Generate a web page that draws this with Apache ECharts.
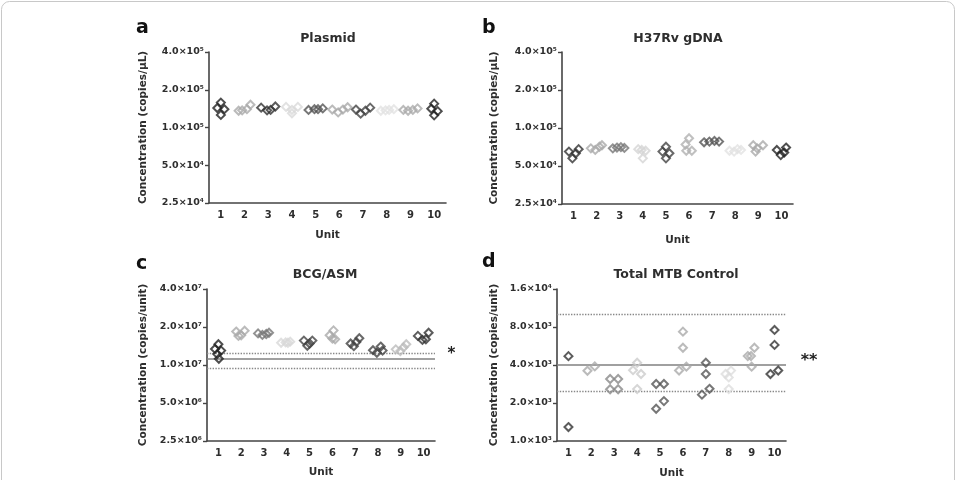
<!DOCTYPE html>
<html><head><meta charset="utf-8">
<script src="https://cdn.jsdelivr.net/npm/echarts@6/dist/echarts.min.js"></script>
<style>html,body{margin:0;padding:0;background:#fff}#c{width:957px;height:480px}</style>
</head><body><div id="c"></div>
<script>
const units = ['1','2','3','4','5','6','7','8','9','10'];

const plasmidTicks = ['2.5×10⁴','5.0×10⁴','1.0×10⁵','2.0×10⁵','4.0×10⁵'];
const plasmidRange = [25000, 400000];
const plasmidValues = [
  [158000,143000,140000,126000],
  [136000,137000,140000,152000],
  [144000,137000,138000,147000],
  [146000,138000,130000,146000],
  [138000,140000,142000,140000],
  [139000,132000,139000,145000],
  [139000,129000,136000,144000],
  [136000,137000,138000,140000],
  [138000,136000,138000,142000],
  [155000,141000,135000,125000]
];
const plasmidJitter = [
  [0,-0.15,0.15,0],
  [-0.25,-0.1,0.1,0.25],
  [-0.3,-0.05,0.1,0.3],
  [-0.25,0,0,0.25],
  [-0.3,-0.05,0.3,0.1],
  [-0.3,-0.05,0.15,0.35],
  [-0.3,-0.1,0.1,0.3],
  [-0.25,-0.05,0.1,0.3],
  [-0.3,-0.1,0.1,0.3],
  [0,-0.12,0.15,0]
];

const h37rvTicks = ['2.5×10⁴','5.0×10⁴','1.0×10⁵','2.0×10⁵','4.0×10⁵'];
const h37rvRange = [25000, 400000];
const h37rvValues = [
  [65000,57500,63000,68000],
  [69000,67000,71000,73000],
  [69000,70000,70500,69500],
  [68000,66000,57500,67000],
  [71000,65000,63000,57500],
  [83000,74000,66000,66000],
  [77000,78000,79000,78000],
  [66000,65000,68000,67000],
  [73000,69000,73000,65000],
  [67000,61000,64000,70000]
];
const h37rvJitter = [
  [-0.2,-0.05,0.1,0.22],
  [-0.25,-0.06,0.12,0.23],
  [-0.3,-0.12,0.05,0.2],
  [-0.2,0.12,0,-0.05],
  [0,-0.15,0.15,0],
  [0,-0.15,-0.12,0.12],
  [-0.35,-0.12,0.1,0.3],
  [-0.25,-0.05,0.1,0.25],
  [-0.22,-0.05,0.2,-0.12],
  [-0.2,-0.03,0.12,0.2]
];

const bcgTicks = ['2.5×10⁶','5.0×10⁶','1.0×10⁷','2.0×10⁷','4.0×10⁷'];
const bcgRange = [2500000, 40000000];
const bcgValues = [
  [14600000,13400000,13000000,12200000,11200000],
  [18400000,17200000,18700000,17000000],
  [17800000,17300000,17600000,18000000],
  [15000000,15100000,15300000,15000000],
  [15600000,14200000,15600000,14800000],
  [18800000,17200000,16200000,16000000],
  [14800000,14100000,16300000,15200000],
  [13100000,12500000,14000000,13000000],
  [13300000,12900000,13800000,14600000],
  [17000000,15800000,16000000,18000000]
];
const bcgJitter = [
  [0,-0.15,0.12,-0.05,0.02],
  [-0.22,0,0.15,-0.12],
  [-0.26,-0.07,0.1,0.22],
  [-0.25,-0.05,0.15,0.05],
  [-0.25,-0.1,0.12,0],
  [0.05,-0.12,0,0.12],
  [-0.2,-0.06,0.18,0.05],
  [-0.22,-0.05,0.12,0.2],
  [-0.22,-0.02,0.12,0.24],
  [-0.25,-0.05,0.1,0.22]
];
const bcgMean = 11200000;
const bcgLimits = [12400000, 9400000];

const mtbTicks = ['1.0×10³','2.0×10³','4.0×10³','8.0×10³','1.6×10⁴'];
const mtbRange = [1000, 16000];
const mtbValues = [
  [4700,1290],
  [3600,3900],
  [3100,3100,2570,2570],
  [4170,3640,3395,2580],
  [2830,2830,1800,2070],
  [7350,5480,3620,3880],
  [4170,3390,2330,2590],
  [3395,3610,3190,2580],
  [4710,4710,5480,3880],
  [7580,5770,3390,3620]
];
const mtbJitter = [
  [0,0],
  [-0.17,0.15],
  [-0.18,0.17,-0.18,0.17],
  [0,-0.18,0.17,0],
  [-0.17,0.17,-0.17,0.17],
  [0,0,-0.17,0.15],
  [0,0,-0.17,0.16],
  [-0.14,0.1,0,0],
  [-0.17,-0.03,0.12,0],
  [0,0,-0.18,0.16]
];
const mtbMean = 4000;
const mtbLimits = [10100, 2500];

const panels = [
  {letter:'a', title:'Plasmid', yName:'Concentration (copies/μL)', ticks:plasmidTicks, range:plasmidRange, values:plasmidValues, jitter:plasmidJitter,
   grid:{left:209, top:52, width:237, height:151}, nameGap:60, xNameGap:27,
   colors:['#222','#aaa','#333','#dadada','#555','#aaa','#444','#e2e2e2','#aaa','#222']},
  {letter:'b', title:'H37Rv gDNA', yName:'Concentration (copies/μL)', ticks:h37rvTicks, range:h37rvRange, values:h37rvValues, jitter:h37rvJitter,
   grid:{left:562, top:52, width:231, height:152}, nameGap:62, xNameGap:31,
   colors:['#333','#aaa','#777','#d5d5d5','#444','#b0b0b0','#555','#e2e2e2','#aaa','#222']},
  {letter:'c', title:'BCG/ASM', yName:'Concentration (copies/unit)', ticks:bcgTicks, range:bcgRange, values:bcgValues, jitter:bcgJitter,
   grid:{left:207, top:289, width:228, height:152}, nameGap:58, xNameGap:26,
   colors:['#222','#aaa','#777','#d8d8d8','#444','#aaa','#444','#444','#bbb','#333'],
   mean:bcgMean, limits:bcgLimits},
  {letter:'d', title:'Total MTB Control', yName:'Concentration (copies/unit)', ticks:mtbTicks, range:mtbRange, values:mtbValues, jitter:mtbJitter,
   grid:{left:557, top:289, width:229, height:152}, nameGap:57, xNameGap:27,
   colors:['#333','#aaa','#888','#ccc','#555','#aaa','#555','#ddd','#aaa','#333'],
   mean:mtbMean, limits:mtbLimits}
];

const FONT = '"DejaVu Sans", sans-serif';
const TXT = '#2e2e2e';
const AX = '#444';

const option = {
  animation:false,
  title:[], grid:[], xAxis:[], yAxis:[], series:[],
  graphic:[]
};

const titlePos = [[323,27],[673,27],[320,263],[671,263]];
panels.forEach((p, k) => {
  option.grid.push(p.grid);
  option.title.push({text:p.title, left:titlePos[k][0], top:titlePos[k][1], textAlign:'center',
    textStyle:{fontFamily:FONT, fontWeight:'bold', fontSize:12.5, color:TXT}});
  option.xAxis.push({type:'category', gridIndex:k, data:units, boundaryGap:true,
    name:'Unit', nameLocation:'middle', nameGap:p.xNameGap,
    nameTextStyle:{fontFamily:FONT, fontWeight:'bold', fontSize:10.5, color:TXT},
    axisLine:{lineStyle:{color:AX, width:1.6}},
    axisTick:{alignWithLabel:true, length:4, lineStyle:{color:AX, width:1.4}},
    axisLabel:{fontFamily:FONT, fontWeight:'bold', fontSize:10, color:TXT, margin:7},
    splitLine:{show:false}});
  option.xAxis.push({type:'value', gridIndex:k, min:0.5, max:10.5, show:false});
  option.yAxis.push({type:'log', logBase:2, gridIndex:k, min:1, max:p.range[1]/p.range[0],
    name:p.yName, nameLocation:'middle', nameGap:p.nameGap, nameRotate:90,
    nameTextStyle:{fontFamily:FONT, fontWeight:'bold', fontSize:10.5, color:TXT},
    axisLine:{show:true, lineStyle:{color:AX, width:1.6}},
    axisTick:{show:true, length:4, lineStyle:{color:AX, width:1.4}},
    axisLabel:{fontFamily:FONT, fontWeight:'bold', fontSize:9.5, color:TXT, margin:5,
      formatter:(v, i) => p.ticks[Math.round(Math.log2(v))] || ''},
    splitLine:{show:false}});
  const data = [];
  p.values.forEach((arr, i) => arr.forEach((v, j) => {
    data.push({value:[i + 1 + p.jitter[i][j], v / p.range[0]], itemStyle:{borderColor:p.colors[i]}});
  }));
  const s = {type:'scatter', xAxisIndex:2*k+1, yAxisIndex:k, symbol:'diamond', symbolSize:8,
    itemStyle:{color:'rgba(0,0,0,0)', borderWidth:2}, emphasis:{disabled:true}, data:data, z:3};
  if (p.mean !== undefined) {
    s.markLine = {silent:true, symbol:'none', label:{show:false}, z:2,
      data:[
        {yAxis:p.mean / p.range[0], lineStyle:{type:'solid', color:'#808080', width:1.6}},
        {yAxis:p.limits[0] / p.range[0], lineStyle:{type:'dotted', color:'#888', width:1.4}},
        {yAxis:p.limits[1] / p.range[0], lineStyle:{type:'dotted', color:'#888', width:1.4}}
      ]};
  }
  option.series.push(s);
});

const letterPos = [[136,28],[482,28.5],[136,264],[482,262.5]];
panels.forEach((p, k) => {
  option.graphic.push({type:'text', x:letterPos[k][0], y:letterPos[k][1],
    style:{text:p.letter, fill:'#111', font:'bold 19px "DejaVu Sans", sans-serif', textVerticalAlign:'middle', textAlign:'left'}});
});
option.graphic.push({type:'text', x:451.5, y:354, style:{text:'*', fill:'#222', font:'bold 15px "DejaVu Sans", sans-serif', textVerticalAlign:'middle', textAlign:'center'}});
option.graphic.push({type:'text', x:809, y:361, style:{text:'**', fill:'#222', font:'bold 16px "DejaVu Sans", sans-serif', textVerticalAlign:'middle', textAlign:'center'}});
option.graphic.push({type:'rect', shape:{x:1.5, y:1.5, width:953, height:520, r:8}, style:{fill:'none', stroke:'#c8c8c8', lineWidth:1}, z:-1});

const chart = echarts.init(document.getElementById('c'), null, {renderer:'canvas'});
chart.setOption(option);
</script>
</body></html>
